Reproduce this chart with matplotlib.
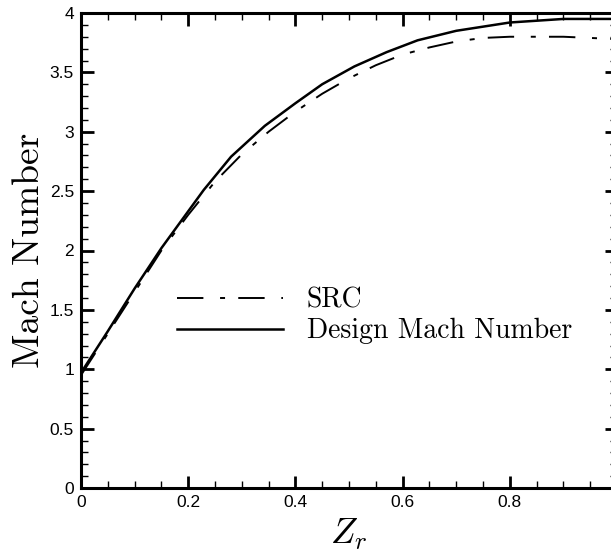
import matplotlib
matplotlib.use('Agg')
import matplotlib.pyplot as plt
from matplotlib.ticker import MultipleLocator

plt.rcParams['mathtext.fontset'] = 'cm'
plt.rcParams['lines.scale_dashes'] = False
plt.rcParams['axes.unicode_minus'] = False

# ── Data ─────────────────────────────────────────────────
z_design = [0.0, 0.05, 0.10, 0.15, 0.229, 0.28, 0.343, 0.40, 0.45, 0.51,
            0.57, 0.628, 0.70, 0.80, 0.90, 1.0]
mach_design = [0.97, 1.32, 1.68, 2.02, 2.51, 2.79, 3.05, 3.24, 3.40, 3.55,
               3.67, 3.77, 3.85, 3.92, 3.95, 3.95]

z_src = [0.0, 0.05, 0.10, 0.15, 0.20, 0.25, 0.30, 0.35, 0.40, 0.45, 0.50,
         0.55, 0.60, 0.65, 0.70, 0.75, 0.80, 0.85, 0.90, 0.95, 1.0]
mach_src = [0.95, 1.30, 1.65, 2.00, 2.30, 2.58, 2.81, 3.00, 3.17, 3.32, 3.45,
            3.56, 3.65, 3.71, 3.76, 3.79, 3.80, 3.80, 3.80, 3.79, 3.78]

# ── Figure ───────────────────────────────────────────────
W, H = 611, 556
fig = plt.figure(figsize=(W / 100, H / 100), dpi=100)
ax = fig.add_axes([81 / W, 1 - 488 / H, 536 / W, 475 / H])

ax.plot(z_src, mach_src, color='black', linewidth=1.4,
        linestyle=(0, (19, 12, 3.6, 9.5)), label='SRC')
ax.plot(z_design, mach_design, color='black', linewidth=1.8,
        label='Design Mach Number')

ax.set_xlim(0, 1)
ax.set_ylim(0, 4)
ax.xaxis.set_minor_locator(MultipleLocator(0.05))
ax.yaxis.set_minor_locator(MultipleLocator(0.1))
ax.set_xticks([0, 0.2, 0.4, 0.6, 0.8])
ax.set_xticklabels(['0', '0.2', '0.4', '0.6', '0.8'])
ax.set_yticks([0, 0.5, 1, 1.5, 2, 2.5, 3, 3.5, 4])
ax.set_yticklabels(['0', '0.5', '1', '1.5', '2', '2.5', '3', '3.5', '4'])

ax.tick_params(which='both', direction='in', top=True, right=True,
               color='black')
ax.tick_params(which='major', length=9, width=2, labelsize=12.5, pad=5)
ax.tick_params(which='minor', length=5, width=1)
for lab in ax.get_xticklabels() + ax.get_yticklabels():
    lab.set_family('Liberation Sans')

for sp in ax.spines.values():
    sp.set_linewidth(2.2)

ax.set_ylabel('Mach Number', family='cmr10', fontsize=27, labelpad=3)
ax.set_xlabel(r'$Z_r$', fontsize=26, labelpad=5)

leg = ax.legend(loc='upper left', bbox_to_anchor=(0.18, 0.422),
                frameon=False, prop={'family': 'cmr10', 'size': 20},
                handlelength=3.8, handletextpad=0.85, labelspacing=0.15,
                borderpad=0, borderaxespad=0)

fig.savefig('out.png', dpi=100)
